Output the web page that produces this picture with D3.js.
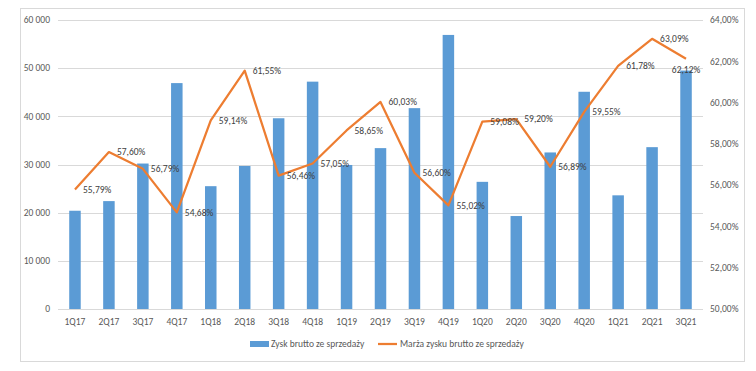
<!DOCTYPE html>
<html>
<head>
<meta charset="utf-8">
<script src="https://cdn.jsdelivr.net/npm/d3@7"></script>
<style>
  body { margin: 0; background: #fff; }
  svg text { font-family: Carlito, Calibri, "Liberation Sans", Arial, sans-serif; }
</style>
</head>
<body>
<svg id="chart"></svg>
<script>
let quarters = ["1Q17","2Q17","3Q17","4Q17","1Q18","2Q18","3Q18","4Q18","1Q19","2Q19",
                "3Q19","4Q19","1Q20","2Q20","3Q20","4Q20","1Q21","2Q21","3Q21"]
let grossProfit = [20400, 22400, 30200, 46900, 25500, 29700, 39600, 47200, 29900, 33400,
                   41700, 56900, 26400, 19300, 32500, 45100, 23600, 33600, 49500]
let grossMargin = [55.79, 57.60, 56.79, 54.68, 59.14, 61.55, 56.46, 57.05, 58.65, 60.03,
                   56.60, 55.02, 59.08, 59.20, 56.89, 59.55, 61.78, 63.09, 62.12]
let leftTicks = [0, 10000, 20000, 30000, 40000, 50000, 60000]
let rightTicks = [50, 52, 54, 56, 58, 60, 62, 64]
let legendLabels = ["Zysk brutto ze sprzedaży", "Marża zysku brutto ze sprzedaży"]

let width = 756, height = 371
let plot = {left: 58, right: 703, top: 20, bottom: 309}

let svg = d3.select("#chart").attr("width", width).attr("height", height)

// outer chart frame
svg.append("rect")
    .attr("x", 20.5).attr("y", 8.5)
    .attr("width", 724).attr("height", 353)
    .attr("fill", "#fff").attr("stroke", "#d9d9d9")

let xc = d3.scalePoint().domain(quarters).range([plot.left, plot.right]).padding(0.5)
let yLeft = d3.scaleLinear().domain([0, 60000]).range([plot.bottom, plot.top])
let yRight = d3.scaleLinear().domain([50, 64]).range([plot.bottom, plot.top])

let fmtNum = (v) => d3.format(",")(v).replace(/,/g, " ")
let fmtPct = (v) => v.toFixed(2).replace(".", ",") + "%"

// gridlines
svg.append("g")
    .selectAll("line")
    .data(leftTicks)
    .enter()
    .append("line")
    .attr("x1", plot.left).attr("x2", plot.right)
    .attr("y1", d => Math.round(yLeft(d)) + 0.5)
    .attr("y2", d => Math.round(yLeft(d)) + 0.5)
    .attr("stroke", "#d9d9d9")
    .attr("stroke-width", 1)

// left axis labels
svg.append("g")
    .selectAll("text")
    .data(leftTicks)
    .enter()
    .append("text")
    .attr("x", 50)
    .attr("y", d => yLeft(d))
    .attr("dy", "0.35em")
    .attr("text-anchor", "end")
    .attr("font-size", 9.5)
    .attr("fill", "#595959")
    .text(d => fmtNum(d))

// right axis labels
svg.append("g")
    .selectAll("text")
    .data(rightTicks)
    .enter()
    .append("text")
    .attr("x", 710)
    .attr("y", d => yRight(d))
    .attr("dy", "0.35em")
    .attr("font-size", 9.5)
    .attr("fill", "#595959")
    .text(d => d.toFixed(2).replace(".", ",") + "%")

// bars
svg.append("g")
    .selectAll("rect")
    .data(quarters)
    .enter()
    .append("rect")
    .attr("x", (d) => xc(d) - 5.75)
    .attr("width", 11.5)
    .attr("y", (d, i) => yLeft(grossProfit[i]))
    .attr("height", (d, i) => yLeft(0) - yLeft(grossProfit[i]))
    .attr("fill", "#5b9bd5")

// x labels
svg.append("g")
    .selectAll("text")
    .data(quarters)
    .enter()
    .append("text")
    .attr("x", d => xc(d))
    .attr("y", 322)
    .attr("dy", "0.35em")
    .attr("text-anchor", "middle")
    .attr("font-size", 9.5)
    .attr("fill", "#595959")
    .text(d => d)

// margin line
let line = d3.line()
    .x((d, i) => xc(quarters[i]))
    .y(d => yRight(d))

svg.append("path")
    .datum(grossMargin)
    .attr("d", line)
    .attr("fill", "none")
    .attr("stroke", "#ed7d31")
    .attr("stroke-width", 2.25)
    .attr("stroke-linejoin", "round")

// data labels (last one sits below its point)
let last = quarters.length - 1
svg.append("g")
    .selectAll("text")
    .data(grossMargin)
    .enter()
    .append("text")
    .attr("x", (d, i) => i === last ? xc(quarters[i]) : xc(quarters[i]) + 8)
    .attr("y", (d, i) => i === last ? yRight(d) + 11 : yRight(d))
    .attr("dy", "0.35em")
    .attr("text-anchor", (d, i) => i === last ? "middle" : "start")
    .attr("font-size", 9.5)
    .attr("fill", "#404040")
    .text(d => fmtPct(d))

// legend
let legend = svg.append("g").attr("transform", "translate(0,344)")
legend.append("rect")
    .attr("x", 250).attr("y", -3)
    .attr("width", 19).attr("height", 6)
    .attr("fill", "#5b9bd5")
legend.append("text")
    .attr("x", 271).attr("y", 0).attr("dy", "0.35em")
    .attr("font-size", 9.5).attr("fill", "#595959")
    .text(legendLabels[0])
legend.append("line")
    .attr("x1", 378).attr("x2", 397)
    .attr("y1", 0).attr("y2", 0)
    .attr("stroke", "#ed7d31").attr("stroke-width", 2.25)
legend.append("text")
    .attr("x", 400).attr("y", 0).attr("dy", "0.35em")
    .attr("font-size", 9.5).attr("fill", "#595959")
    .text(legendLabels[1])
</script>
</body>
</html>
